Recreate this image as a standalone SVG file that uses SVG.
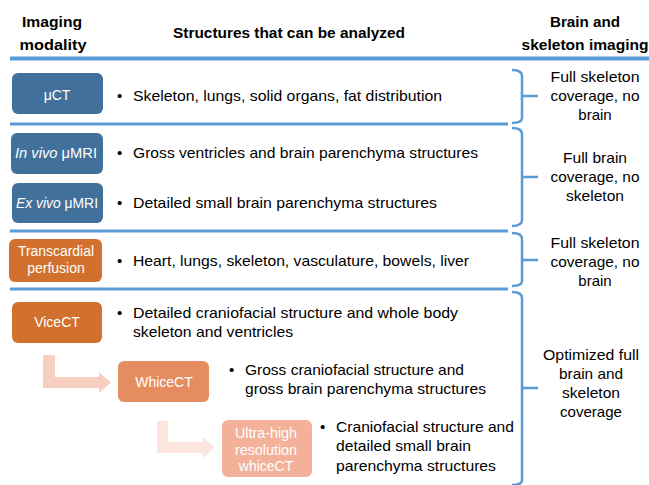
<svg xmlns="http://www.w3.org/2000/svg" width="649" height="485" viewBox="0 0 649 485">
<style>
text{font-family:"Liberation Sans",Arial,sans-serif;fill:#000}
.h{font-weight:bold;font-size:15.5px}
.t{font-size:15px}
.r{font-size:15px;text-anchor:middle}
.bx{font-size:14px;fill:#fff;text-anchor:middle}
.line{stroke:#5B9BD5;stroke-width:3;fill:none}
.br{stroke:#5B9BD5;stroke-width:2.5;fill:none}
.blue{fill:#41709B}
.or{fill:#D2702D}
</style>
<rect width="649" height="485" fill="#fff"/>
<g id="header">
<text class="h" x="52" y="27" text-anchor="middle" textLength="60" lengthAdjust="spacingAndGlyphs">Imaging</text>
<text class="h" x="53" y="50" text-anchor="middle" textLength="67" lengthAdjust="spacingAndGlyphs">modality</text>
<text class="h" x="289" y="38" text-anchor="middle" textLength="232" lengthAdjust="spacingAndGlyphs">Structures that can be analyzed</text>
<text class="h" x="585" y="27" text-anchor="middle" textLength="70" lengthAdjust="spacingAndGlyphs">Brain and</text>
<text class="h" x="585" y="50" text-anchor="middle" textLength="127" lengthAdjust="spacingAndGlyphs">skeleton imaging</text>
</g>
<g id="connectors">
<line class="line" x1="10" y1="58.5" x2="649" y2="58.5" style="stroke-width:4"/>
<line class="line" x1="10" y1="124" x2="508" y2="124"/>
<line class="line" x1="10" y1="231" x2="508" y2="231"/>
<line class="line" x1="10" y1="289" x2="508" y2="289"/>
<path class="br" d="M512,70 Q522,70 522,76 V118 Q522,123 512,123 M522,96 H538"/>
<path class="br" d="M512,128 Q522,128 522,134 V220 Q522,226 512,226 M522,177 H538"/>
<path class="br" d="M512,233 Q522,233 522,239 V281 Q522,286 512,286 M522,260 H538"/>
<path class="br" d="M512,292 Q522,292 522,298 V480 Q522,485 512,485 M522,388 H538"/>
<path d="M43,355 H55 V377 H99 V372 L111,382.5 L99,393 V388 H43 Z" fill="#F7CEBF"/>
<path d="M157,421 H168 V442 H203 V437 L214,447.5 L203,458 V453 H157 Z" fill="#FCE5DC"/>
</g>
<g id="muct">
<rect class="blue" x="12" y="73" width="91" height="41" rx="6"/>
<text class="bx" x="57" y="100">μCT</text>
<text class="t" x="117" y="101">•</text>
<text class="t" x="133" y="101" textLength="309" lengthAdjust="spacingAndGlyphs">Skeleton, lungs, solid organs, fat distribution</text>
</g>
<g id="invivo">
<rect class="blue" x="11" y="133" width="92" height="41" rx="6"/>
<text class="bx" x="56" y="158" textLength="82" lengthAdjust="spacingAndGlyphs"><tspan font-style="italic">In vivo</tspan> μMRI</text>
<text class="t" x="117" y="158">•</text>
<text class="t" x="133" y="158" textLength="345" lengthAdjust="spacingAndGlyphs">Gross ventricles and brain parenchyma structures</text>
</g>
<g id="exvivo">
<rect class="blue" x="12" y="183" width="91" height="40" rx="6"/>
<text class="bx" x="57" y="208" textLength="82" lengthAdjust="spacingAndGlyphs"><tspan font-style="italic">Ex vivo</tspan> μMRI</text>
<text class="t" x="117" y="208">•</text>
<text class="t" x="133" y="208" textLength="304" lengthAdjust="spacingAndGlyphs">Detailed small brain parenchyma structures</text>
</g>
<g id="transcardial">
<rect class="or" x="9" y="239" width="93" height="43" rx="6"/>
<text class="bx" x="56" y="256" textLength="76" lengthAdjust="spacingAndGlyphs">Transcardial</text>
<text class="bx" x="56" y="273">perfusion</text>
<text class="t" x="117" y="266">•</text>
<text class="t" x="133" y="266" textLength="336" lengthAdjust="spacingAndGlyphs">Heart, lungs, skeleton, vasculature, bowels, liver</text>
</g>
<g id="vicect">
<rect class="or" x="12" y="302" width="90" height="41" rx="6"/>
<text class="bx" x="57" y="327">ViceCT</text>
<text class="t" x="117" y="318">•</text>
<text class="t" x="133" y="318" textLength="325" lengthAdjust="spacingAndGlyphs">Detailed craniofacial structure and whole body</text>
<text class="t" x="133" y="337" textLength="160" lengthAdjust="spacingAndGlyphs">skeleton and ventricles</text>
</g>
<g id="whicect">
<rect x="118" y="361" width="91" height="41" rx="6" fill="#E58C61"/>
<text class="bx" x="164" y="387">WhiceCT</text>
<text class="t" x="229" y="375">•</text>
<text class="t" x="245" y="375" textLength="219" lengthAdjust="spacingAndGlyphs">Gross craniofacial structure and</text>
<text class="t" x="245" y="394" textLength="241" lengthAdjust="spacingAndGlyphs">gross brain parenchyma structures</text>
</g>
<g id="ultra">
<rect x="222" y="420" width="90" height="57" rx="6" fill="#F3B19A"/>
<text class="bx" x="266" y="438" textLength="62" lengthAdjust="spacingAndGlyphs">Ultra-high</text>
<text class="bx" x="266" y="455" textLength="62" lengthAdjust="spacingAndGlyphs">resolution</text>
<text class="bx" x="266" y="471">whiceCT</text>
<text class="t" x="320" y="432">•</text>
<text class="t" x="336" y="432" textLength="178" lengthAdjust="spacingAndGlyphs">Craniofacial structure and</text>
<text class="t" x="336" y="451" textLength="135" lengthAdjust="spacingAndGlyphs">detailed small brain</text>
<text class="t" x="336" y="471" textLength="160" lengthAdjust="spacingAndGlyphs">parenchyma structures</text>
</g>
<g id="labels">
<text class="r" x="595" y="82" textLength="89" lengthAdjust="spacingAndGlyphs">Full skeleton</text>
<text class="r" x="595" y="101" textLength="89" lengthAdjust="spacingAndGlyphs">coverage, no</text>
<text class="r" x="595" y="120">brain</text>
<text class="r" x="595" y="163" textLength="64" lengthAdjust="spacingAndGlyphs">Full brain</text>
<text class="r" x="595" y="182" textLength="89" lengthAdjust="spacingAndGlyphs">coverage, no</text>
<text class="r" x="595" y="201" textLength="58" lengthAdjust="spacingAndGlyphs">skeleton</text>
<text class="r" x="595" y="248" textLength="89" lengthAdjust="spacingAndGlyphs">Full skeleton</text>
<text class="r" x="595" y="267" textLength="89" lengthAdjust="spacingAndGlyphs">coverage, no</text>
<text class="r" x="595" y="286">brain</text>
<text class="r" x="591" y="360" textLength="96" lengthAdjust="spacingAndGlyphs">Optimized full</text>
<text class="r" x="591" y="379" textLength="64" lengthAdjust="spacingAndGlyphs">brain and</text>
<text class="r" x="591" y="398" textLength="58" lengthAdjust="spacingAndGlyphs">skeleton</text>
<text class="r" x="591" y="417" textLength="62" lengthAdjust="spacingAndGlyphs">coverage</text>
</g>
</svg>
